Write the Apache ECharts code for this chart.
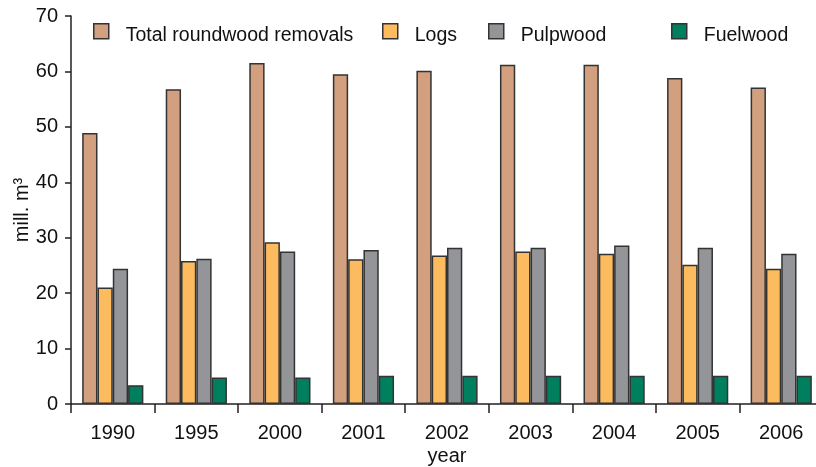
<!DOCTYPE html>
<html>
<head>
<meta charset="utf-8">
<script src="https://cdn.jsdelivr.net/npm/echarts@6/dist/echarts.min.js"></script>
<style>
html,body{margin:0;padding:0;background:#fff;}
#chart{width:816px;height:467px;}
</style>
</head>
<body>
<div id="chart"></div>
<script>
const years = ['1990','1995','2000','2001','2002','2003','2004','2005','2006'];
const totalRemovals = [48.9, 56.8, 61.5, 59.5, 60.1, 61.2, 61.2, 58.8, 57.1];
const logs = [21.0, 25.8, 29.2, 26.1, 26.8, 27.5, 27.1, 25.1, 24.4];
const pulpwood = [24.4, 26.2, 27.5, 27.8, 28.2, 28.2, 28.6, 28.2, 27.1];
const fuelwood = [3.4, 4.8, 4.8, 5.1, 5.1, 5.1, 5.1, 5.1, 5.1];
const seriesNames = ['Total roundwood removals', 'Logs', 'Pulpwood', 'Fuelwood'];
const yTicks = [0, 10, 20, 30, 40, 50, 60, 70];

const FONT = '"Liberation Sans", Arial, sans-serif';
const FS = 20;
const colors = ['#D2A07E', '#FDBB5F', '#939598', '#007F5F'];
const dataSets = [totalRemovals, logs, pulpwood, fuelwood];
const legendLeft = [93, 382, 488, 671];

const chart = echarts.init(document.getElementById('chart'), null, {renderer: 'canvas'});

const legends = seriesNames.map((n, i) => ({
  data: [n],
  left: legendLeft[i],
  top: 23,
  padding: 0,
  itemWidth: 15,
  itemHeight: 15,
  itemGap: 0,
  icon: 'rect',
  selectedMode: false,
  formatter: name => '{t|' + name + '}',
  textStyle: {
    fontFamily: FONT, fontSize: 19.5, color: '#111',
    rich: {t: {fontFamily: FONT, fontSize: 19.5, color: '#111', padding: [8, 0, 0, 12]}}
  },
  itemStyle: {borderColor: '#333', borderWidth: 1.5}
}));

chart.setOption({
  animation: false,
  backgroundColor: '#ffffff',
  legend: legends,
  grid: {left: 71, right: -7, top: 16, bottom: 63, containLabel: false, outerBoundsMode: 'none'},
  xAxis: {
    type: 'category',
    data: years,
    name: 'year',
    nameLocation: 'middle',
    nameGap: 42,
    nameMoveOverlap: false,
    nameTextStyle: {fontFamily: FONT, fontSize: FS, color: '#111'},
    axisLine: {lineStyle: {color: '#231f20', width: 1.5}},
    axisTick: {show: true, length: 9, lineStyle: {color: '#231f20', width: 1.5}},
    axisLabel: {fontFamily: FONT, fontSize: FS, color: '#111', margin: 19}
  },
  yAxis: {
    type: 'value',
    min: yTicks[0],
    max: yTicks[yTicks.length - 1],
    interval: 10,
    name: 'mill. m³',
    nameLocation: 'middle',
    nameGap: 39,
    nameMoveOverlap: false,
    nameRotate: 90,
    nameTextStyle: {fontFamily: FONT, fontSize: FS, color: '#111'},
    axisLine: {show: true, lineStyle: {color: '#231f20', width: 1.5}},
    axisTick: {show: true, length: 6, lineStyle: {color: '#231f20', width: 1.5}},
    splitLine: {show: false},
    axisLabel: {fontFamily: FONT, fontSize: FS, color: '#111', margin: 13}
  },
  series: seriesNames.map((n, i) => ({
    name: n,
    type: 'bar',
    data: dataSets[i],
    barWidth: 15.3,
    barGap: '0%',
    itemStyle: {color: colors[i], borderColor: '#333', borderWidth: 1.5}
  }))
});
</script>
</body>
</html>
